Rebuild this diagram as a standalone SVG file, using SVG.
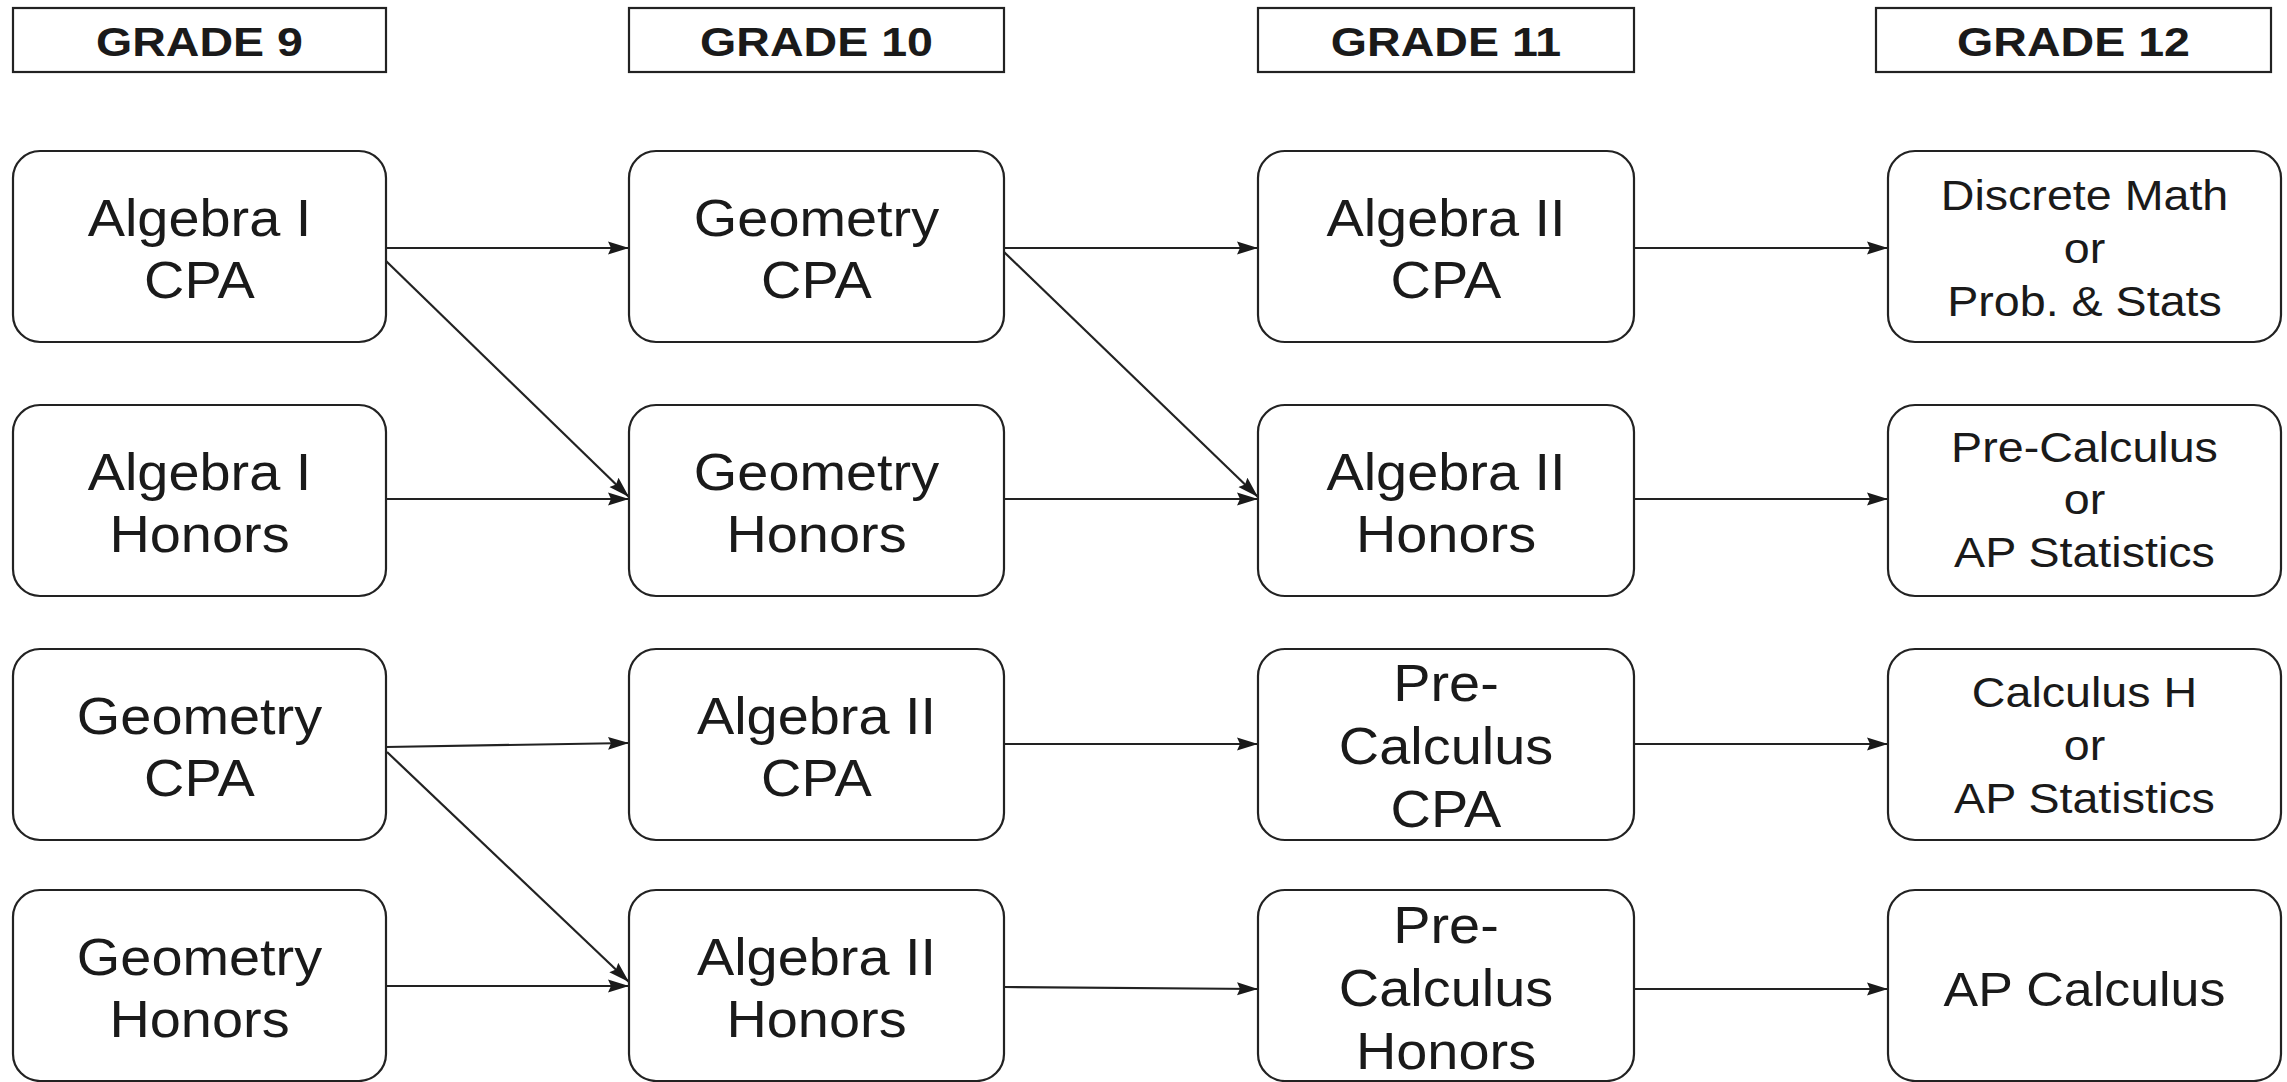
<svg xmlns="http://www.w3.org/2000/svg" width="2287" height="1082" viewBox="0 0 2287 1082">
<style>
  .bg{fill:#ffffff}
  .box{fill:#ffffff;stroke:#222222;stroke-width:2.2}
  .hbox{fill:#ffffff;stroke:#222222;stroke-width:2.2}
  text{font-family:"Liberation Sans",Arial,Helvetica,sans-serif;fill:#1a1a1a;text-anchor:middle}
  .hdr{font-size:41px;font-weight:bold}
  .big{font-size:52px}
  .sm{font-size:42px}
  .conn path{fill:none;stroke:#222222;stroke-width:2.2;marker-end:url(#arr)}
</style>
<defs>
  <marker id="arr" markerUnits="userSpaceOnUse" markerWidth="22" markerHeight="14" viewBox="0 0 22 14" refX="21" refY="7" orient="auto">
    <path d="M0,0.5 L21,7 L0,13.5 L3,7 Z" fill="#1a1a1a"/>
  </marker>
</defs>
<rect class="bg" x="0" y="0" width="2287" height="1082"/>

<g id="headers">
  <g id="h9"><rect class="hbox" x="13" y="8" width="373" height="64"/><text class="hdr" transform="translate(199.5 56) scale(1.136 1)">GRADE 9</text></g>
  <g id="h10"><rect class="hbox" x="629" y="8" width="375" height="64"/><text class="hdr" transform="translate(816.5 56) scale(1.136 1)">GRADE 10</text></g>
  <g id="h11"><rect class="hbox" x="1258" y="8" width="376" height="64"/><text class="hdr" transform="translate(1446 56) scale(1.136 1)">GRADE 11</text></g>
  <g id="h12"><rect class="hbox" x="1876" y="8" width="395" height="64"/><text class="hdr" transform="translate(2073.5 56) scale(1.136 1)">GRADE 12</text></g>
</g>

<g id="connectors" class="conn">
  <path d="M386,248 L629,248"/>
  <path d="M386,261 L629,497"/>
  <path d="M386,499 L629,499"/>
  <path d="M1004,248 L1258,248"/>
  <path d="M1004,252 L1258,497"/>
  <path d="M1004,499 L1258,499"/>
  <path d="M1634,248 L1888,248"/>
  <path d="M1634,499 L1888,499"/>
  <path d="M386,747 L629,743"/>
  <path d="M387,752 L629,982"/>
  <path d="M386,986 L629,986"/>
  <path d="M1004,744 L1258,744"/>
  <path d="M1004,987 L1258,989"/>
  <path d="M1634,744 L1888,744"/>
  <path d="M1634,989 L1888,989"/>
</g>

<g id="n-alg1-cpa"><rect class="box" x="13" y="151" width="373" height="191" rx="27"/>
  <text class="big" transform="translate(199.5 0) scale(1.075 1)"><tspan x="0" y="235.7">Algebra I</tspan><tspan x="0" y="298.3">CPA</tspan></text></g>
<g id="n-alg1-hon"><rect class="box" x="13" y="405" width="373" height="191" rx="27"/>
  <text class="big" transform="translate(199.5 0) scale(1.075 1)"><tspan x="0" y="489.7">Algebra I</tspan><tspan x="0" y="552.3">Honors</tspan></text></g>
<g id="n-geo-cpa-9"><rect class="box" x="13" y="649" width="373" height="191" rx="27"/>
  <text class="big" transform="translate(199.5 0) scale(1.075 1)"><tspan x="0" y="733.7">Geometry</tspan><tspan x="0" y="796.3">CPA</tspan></text></g>
<g id="n-geo-hon-9"><rect class="box" x="13" y="890" width="373" height="191" rx="27"/>
  <text class="big" transform="translate(199.5 0) scale(1.075 1)"><tspan x="0" y="974.7">Geometry</tspan><tspan x="0" y="1037.3">Honors</tspan></text></g>

<g id="n-geo-cpa-10"><rect class="box" x="629" y="151" width="375" height="191" rx="27"/>
  <text class="big" transform="translate(816.5 0) scale(1.075 1)"><tspan x="0" y="235.7">Geometry</tspan><tspan x="0" y="298.3">CPA</tspan></text></g>
<g id="n-geo-hon-10"><rect class="box" x="629" y="405" width="375" height="191" rx="27"/>
  <text class="big" transform="translate(816.5 0) scale(1.075 1)"><tspan x="0" y="489.7">Geometry</tspan><tspan x="0" y="552.3">Honors</tspan></text></g>
<g id="n-alg2-cpa-10"><rect class="box" x="629" y="649" width="375" height="191" rx="27"/>
  <text class="big" transform="translate(816.5 0) scale(1.075 1)"><tspan x="0" y="733.7">Algebra II</tspan><tspan x="0" y="796.3">CPA</tspan></text></g>
<g id="n-alg2-hon-10"><rect class="box" x="629" y="890" width="375" height="191" rx="27"/>
  <text class="big" transform="translate(816.5 0) scale(1.075 1)"><tspan x="0" y="974.7">Algebra II</tspan><tspan x="0" y="1037.3">Honors</tspan></text></g>

<g id="n-alg2-cpa-11"><rect class="box" x="1258" y="151" width="376" height="191" rx="27"/>
  <text class="big" transform="translate(1446 0) scale(1.075 1)"><tspan x="0" y="235.7">Algebra II</tspan><tspan x="0" y="298.3">CPA</tspan></text></g>
<g id="n-alg2-hon-11"><rect class="box" x="1258" y="405" width="376" height="191" rx="27"/>
  <text class="big" transform="translate(1446 0) scale(1.075 1)"><tspan x="0" y="489.7">Algebra II</tspan><tspan x="0" y="552.3">Honors</tspan></text></g>
<g id="n-precalc-cpa"><rect class="box" x="1258" y="649" width="376" height="191" rx="27"/>
  <text class="big" transform="translate(1446 0) scale(1.075 1)"><tspan x="0" y="701">Pre-</tspan><tspan x="0" y="764">Calculus</tspan><tspan x="0" y="827">CPA</tspan></text></g>
<g id="n-precalc-hon"><rect class="box" x="1258" y="890" width="376" height="191" rx="27"/>
  <text class="big" transform="translate(1446 0) scale(1.075 1)"><tspan x="0" y="943">Pre-</tspan><tspan x="0" y="1006">Calculus</tspan><tspan x="0" y="1069">Honors</tspan></text></g>

<g id="n-discrete"><rect class="box" x="1888" y="151" width="393" height="191" rx="27"/>
  <text class="sm" transform="translate(2084.5 0) scale(1.11 1)"><tspan x="0" y="210">Discrete Math</tspan><tspan x="0" y="263">or</tspan><tspan x="0" y="316">Prob. &amp; Stats</tspan></text></g>
<g id="n-precalc-apstat"><rect class="box" x="1888" y="405" width="393" height="191" rx="27"/>
  <text class="sm" transform="translate(2084.5 0) scale(1.11 1)"><tspan x="0" y="462">Pre-Calculus</tspan><tspan x="0" y="514">or</tspan><tspan x="0" y="567">AP Statistics</tspan></text></g>
<g id="n-calch-apstat"><rect class="box" x="1888" y="649" width="393" height="191" rx="27"/>
  <text class="sm" transform="translate(2084.5 0) scale(1.11 1)"><tspan x="0" y="707">Calculus H</tspan><tspan x="0" y="760">or</tspan><tspan x="0" y="813">AP Statistics</tspan></text></g>
<g id="n-apcalc"><rect class="box" x="1888" y="890" width="393" height="191" rx="27"/>
  <text class="big" style="font-size:49px" transform="translate(2084.5 0) scale(1.06 1)"><tspan x="0" y="1005.7">AP Calculus</tspan></text></g>
</svg>
